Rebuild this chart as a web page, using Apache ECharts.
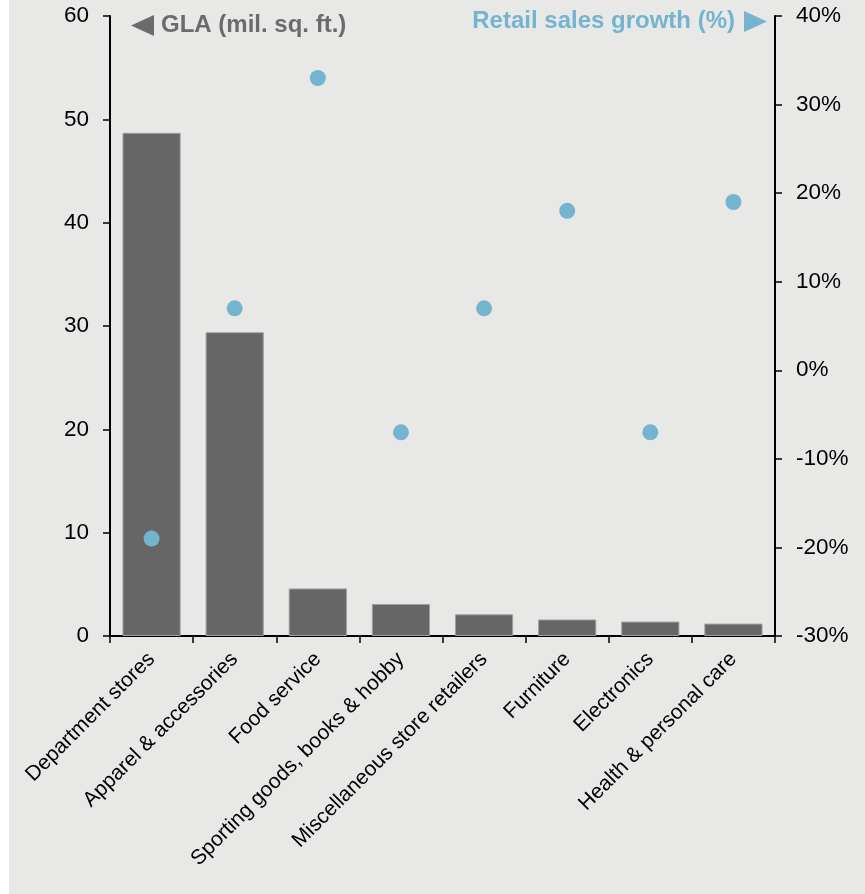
<!DOCTYPE html>
<html>
<head>
<meta charset="utf-8">
<script src="https://cdn.jsdelivr.net/npm/echarts@6/dist/echarts.min.js"></script>
<style>
  html, body { margin: 0; padding: 0; background: #ffffff; }
  #chart { width: 865px; height: 894px; }
</style>
</head>
<body>
<div id="chart"></div>
<script>
// Store categories on the x axis
const categories = [
  'Department stores',
  'Apparel & accessories',
  'Food service',
  'Sporting goods, books & hobby',
  'Miscellaneous store retailers',
  'Furniture',
  'Electronics',
  'Health & personal care'
];
// Gross leasable area, million sq. ft. (left axis)
const glaValues = [48.7, 29.4, 4.6, 3.1, 2.1, 1.6, 1.4, 1.2];
// Retail sales growth, % (right axis)
const salesGrowth = [-19, 7, 33, -7, 7, 18, -7, 19];
// Axis ranges
const glaTicks = { min: 0, max: 60, interval: 10 };
const growthTicks = { min: -30, max: 40, interval: 10 };

const FONT = '"Liberation Sans", Arial, sans-serif';
const BAR = '#666666';
const DOT = '#74b4cf';
const GRID = { left: 110, right: 90, top: 16, bottom: 258 };

const axisLineStyle = { show: true, lineStyle: { color: '#000', width: 2 } };
const axisTickStyle = { show: true, length: 7, lineStyle: { color: '#000', width: 1.5 } };

const chart = echarts.init(document.getElementById('chart'), null, { renderer: 'canvas' });
chart.setOption({
  backgroundColor: '#ffffff',
  animation: false,
  textStyle: { fontFamily: FONT },
  grid: GRID,
  xAxis: {
    type: 'category',
    data: categories,
    axisLine: axisLineStyle,
    axisTick: axisTickStyle,
    axisLabel: {
      rotate: 45,
      interval: 0,
      margin: 20,
      color: '#000',
      fontSize: 21,
      fontFamily: FONT
    },
    splitLine: { show: false }
  },
  yAxis: [
    {
      type: 'value',
      position: 'left',
      min: glaTicks.min, max: glaTicks.max, interval: glaTicks.interval,
      axisLine: axisLineStyle,
      axisTick: axisTickStyle,
      axisLabel: { color: '#000', fontSize: 22.5, margin: 21, fontFamily: FONT },
      splitLine: { show: false }
    },
    {
      type: 'value',
      position: 'right',
      min: growthTicks.min, max: growthTicks.max, interval: growthTicks.interval,
      axisLine: axisLineStyle,
      axisTick: axisTickStyle,
      axisLabel: { color: '#000', fontSize: 22.5, margin: 21, fontFamily: FONT, formatter: '{value}%' },
      splitLine: { show: false }
    }
  ],
  graphic: [
    {
      type: 'rect', z: -10, silent: true,
      shape: { x: 9, y: 0, width: 856, height: 894 },
      style: { fill: '#e8e8e7' }
    },
    {
      type: 'polygon', silent: true,
      shape: { points: [[131, 25.5], [154, 15], [154, 36]] },
      style: { fill: '#6b6b6b' }
    },
    {
      type: 'text', silent: true, x: 161, y: 25.5,
      style: {
        text: 'GLA (mil. sq. ft.)', fill: '#6b6b6b',
        font: 'bold 24px ' + FONT, textVerticalAlign: 'middle', textAlign: 'left'
      }
    },
    {
      type: 'text', silent: true, x: 735, y: 21,
      style: {
        text: 'Retail sales growth (%)', fill: DOT,
        font: 'bold 24px ' + FONT, textVerticalAlign: 'middle', textAlign: 'right'
      }
    },
    {
      type: 'polygon', silent: true,
      shape: { points: [[744, 11], [767, 21.5], [744, 32]] },
      style: { fill: DOT }
    }
  ],
  series: [
    {
      name: 'GLA',
      type: 'bar',
      yAxisIndex: 0,
      data: glaValues,
      barCategoryGap: '30%',
      itemStyle: { color: BAR, borderColor: '#a0a0a0', borderWidth: 1 }
    },
    {
      name: 'Retail sales growth',
      type: 'scatter',
      yAxisIndex: 1,
      data: salesGrowth,
      symbol: 'circle',
      symbolSize: 16,
      itemStyle: { color: DOT, opacity: 1 },
      z: 3
    }
  ]
});
</script>
</body>
</html>
